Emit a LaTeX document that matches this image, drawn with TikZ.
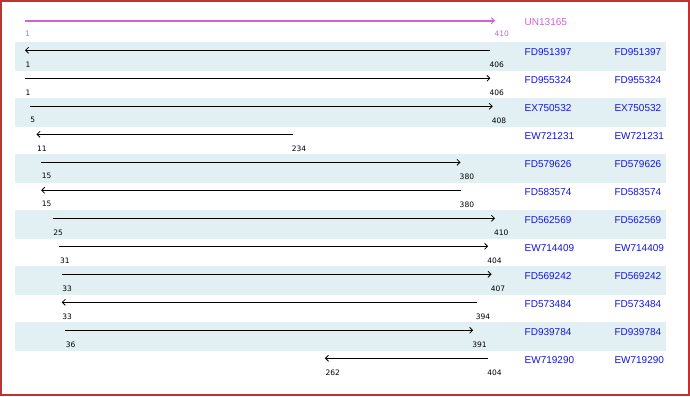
\documentclass[tikz,border=0pt]{standalone}
\usepackage{fontspec}
\usetikzlibrary{arrows.meta}
\newfontfamily\namefont{Liberation Sans}
\newfontfamily\numfont{DejaVu Sans}
\definecolor{bandc}{RGB}{226,240,244}
\definecolor{namec}{RGB}{20,20,225}
\definecolor{purp}{RGB}{204,102,204}
\definecolor{framec}{RGB}{196,48,48}
\tikzset{
  hitline/.style={line width=0.9pt, black},
  fwd/.style={-{Straight Barb[length=3pt,width=6pt,line width=0.8pt]}},
  rev/.style={{Straight Barb[length=3pt,width=6pt,line width=0.8pt]}-},
  numlab/.style={anchor=west, inner sep=0pt, font=\numfont\fontsize{7.5}{8}\selectfont},
  namelab/.style={anchor=west, inner sep=0pt, text=namec, font=\namefont\fontsize{10}{12}\selectfont},
  band/.style={fill=bandc, draw=none},
}
\begin{document}
\begin{tikzpicture}[x=1pt,y=-1pt]
\useasboundingbox (0,0) rectangle (690,396);
\fill[white] (0,0) rectangle (690,396);
\foreach \k in {1,3,5,7,9,11}{
  \fill[band] (15,{42+28*(\k-1)}) rectangle (666,{70.7+28*(\k-1)});
}
\draw[framec, line width=2pt] (1,1) rectangle (689,395);
% reference sequence
\coordinate (us) at (25,20.7);
\coordinate (ue) at (495,20.7);
\draw[purp, line width=2pt, -{Straight Barb[length=3pt,width=6pt,line width=1pt]}] (us) -- (ue);
\node[numlab, text=purp] (usl) at (25,34.2) {1};
\node[numlab, text=purp] (uel) at (494.5,34.2) {410};
\node[namelab, text=purp] (un) at (524.5,21.7) {UN13165};
% hits
\foreach \k/\s/\e/\d/\sl/\el/\nm [evaluate=\k as \y using 50.3+28*(\k-1)] in {
  1/25/490.40/rev/1/406/FD951397,
  2/25/490.40/fwd/1/406/FD955324,
  3/29.60/492.70/fwd/5/408/EX750532,
  4/36.49/292.75/rev/11/234/EW721231,
  5/41.09/460.53/fwd/15/380/FD579626,
  6/41.09/460.53/rev/15/380/FD583574,
  7/52.58/495/fwd/25/410/FD562569,
  8/59.47/488.11/fwd/31/404/EW714409,
  9/61.77/491.55/fwd/33/407/FD569242,
  10/61.77/476.61/rev/33/394/FD573484,
  11/65.22/473.17/fwd/36/391/FD939784,
  12/324.93/488.11/rev/262/404/EW719290}{
  \coordinate (s\k) at (\s,\y);
  \coordinate (e\k) at (\e,\y);
  \draw[hitline,\d] (s\k) -- (e\k);
  \node[numlab] (sl\k) at ([xshift=0.5pt,yshift=-14pt]s\k) {\sl};
  \node[numlab] (el\k) at ([xshift=-1pt,yshift=-14pt]e\k) {\el};
  \node[namelab] (na\k) at (524.5,\y+2) {\nm};
  \node[namelab] (nb\k) at (614.3,\y+2) {\nm};
}
\end{tikzpicture}
\end{document}
